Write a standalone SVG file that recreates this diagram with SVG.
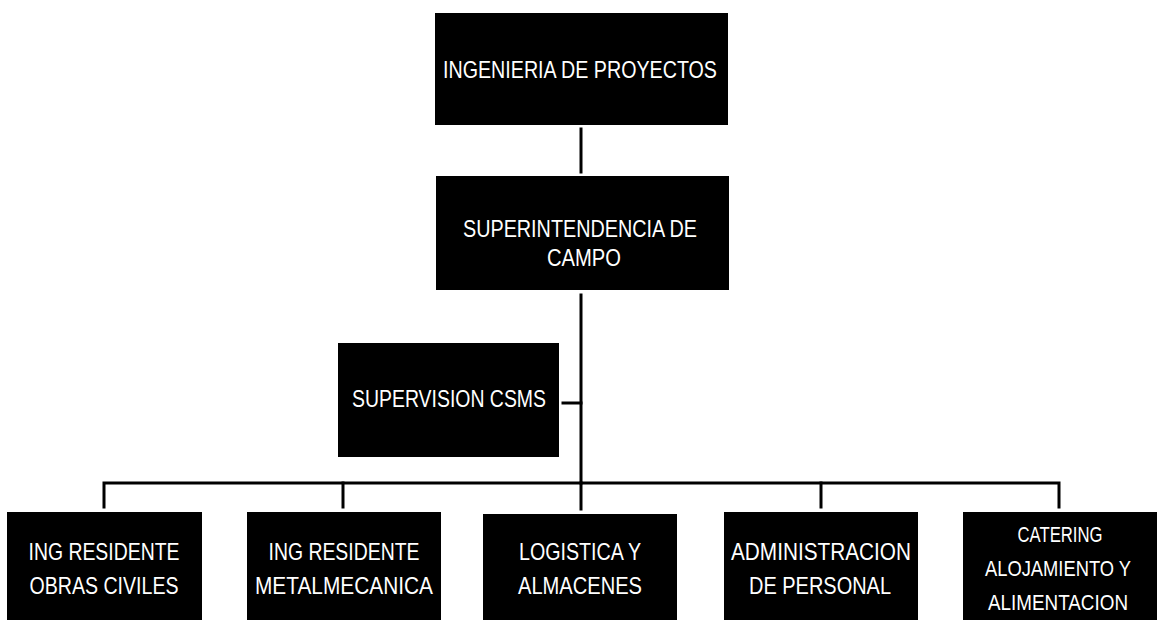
<svg xmlns="http://www.w3.org/2000/svg" width="1158" height="620" viewBox="0 0 1158 620">
  <style>
    .box { fill: #000000; }
    .lbl { fill: #ffffff; font-family: "Liberation Sans", Arial, sans-serif; font-size: 24px; text-anchor: middle; }
    .lbl.sm { font-size: 22px; }
    .wire { stroke: #000000; stroke-width: 3; fill: none; stroke-linecap: square; }
  </style>
  <rect width="1158" height="620" fill="#ffffff"/>

  <!-- connectors -->
  <g id="connectors">
    <line class="wire" x1="581" y1="129" x2="581" y2="172"/>
    <line class="wire" x1="581" y1="295" x2="581" y2="483"/>
    <line class="wire" x1="563" y1="403" x2="581" y2="403"/>
    <polyline class="wire" points="104,507 104,483 1059,483 1059,507"/>
    <line class="wire" x1="343" y1="483" x2="343" y2="507"/>
    <line class="wire" x1="581" y1="483" x2="581" y2="509"/>
    <line class="wire" x1="821" y1="483" x2="821" y2="507"/>
  </g>

  <g id="ingenieria-proyectos">
    <rect class="box" x="435" y="13" width="293" height="112"/>
    <text class="lbl" x="580" y="78" textLength="274" lengthAdjust="spacingAndGlyphs">INGENIERIA DE PROYECTOS</text>
  </g>

  <g id="superintendencia-campo">
    <rect class="box" x="436" y="176" width="293" height="114"/>
    <text class="lbl" x="580" y="237" textLength="234" lengthAdjust="spacingAndGlyphs">SUPERINTENDENCIA DE</text>
    <text class="lbl" x="584" y="266" textLength="74" lengthAdjust="spacingAndGlyphs">CAMPO</text>
  </g>

  <g id="supervision-csms">
    <rect class="box" x="338" y="343" width="221" height="114"/>
    <text class="lbl" x="449" y="407" textLength="194" lengthAdjust="spacingAndGlyphs">SUPERVISION CSMS</text>
  </g>

  <g id="obras-civiles">
    <rect class="box" x="7" y="512" width="195" height="108"/>
    <text class="lbl" x="104" y="560" textLength="151" lengthAdjust="spacingAndGlyphs">ING RESIDENTE</text>
    <text class="lbl" x="104" y="594" textLength="149" lengthAdjust="spacingAndGlyphs">OBRAS CIVILES</text>
  </g>

  <g id="metalmecanica">
    <rect class="box" x="247" y="512" width="194" height="108"/>
    <text class="lbl" x="344" y="560" textLength="151" lengthAdjust="spacingAndGlyphs">ING RESIDENTE</text>
    <text class="lbl" x="344" y="594" textLength="178" lengthAdjust="spacingAndGlyphs">METALMECANICA</text>
  </g>

  <g id="logistica">
    <rect class="box" x="483" y="514" width="194" height="106"/>
    <text class="lbl" x="580" y="560" textLength="122" lengthAdjust="spacingAndGlyphs">LOGISTICA Y</text>
    <text class="lbl" x="580" y="594" textLength="124" lengthAdjust="spacingAndGlyphs">ALMACENES</text>
  </g>

  <g id="administracion">
    <rect class="box" x="724" y="512" width="194" height="108"/>
    <text class="lbl" x="821" y="560" textLength="180" lengthAdjust="spacingAndGlyphs">ADMINISTRACION</text>
    <text class="lbl" x="820" y="594" textLength="142" lengthAdjust="spacingAndGlyphs">DE PERSONAL</text>
  </g>

  <g id="catering">
    <rect class="box" x="963" y="512" width="194" height="108"/>
    <text class="lbl sm" x="1060" y="542" textLength="85" lengthAdjust="spacingAndGlyphs">CATERING</text>
    <text class="lbl sm" x="1058" y="576" textLength="146" lengthAdjust="spacingAndGlyphs">ALOJAMIENTO Y</text>
    <text class="lbl sm" x="1058" y="610" textLength="140" lengthAdjust="spacingAndGlyphs">ALIMENTACION</text>
  </g>
</svg>
